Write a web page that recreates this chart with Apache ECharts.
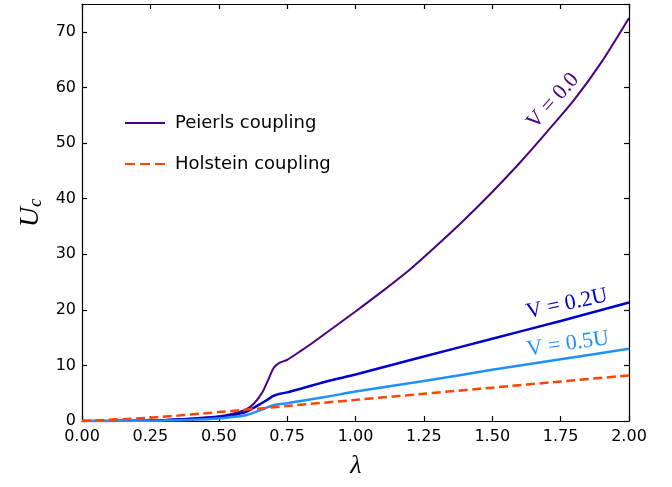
<!DOCTYPE html>
<html>
<head>
<meta charset="utf-8">
<script src="https://cdn.jsdelivr.net/npm/echarts@6/dist/echarts.min.js"></script>
<style>html,body{margin:0;padding:0;background:#fff}#c{width:672px;height:487px}</style>
</head>
<body>
<div id="c"></div>
<script>
// ---- data ----
var xTicks = [0, 0.25, 0.5, 0.75, 1.0, 1.25, 1.5, 1.75, 2.0];
var yTicks = [0, 10, 20, 30, 40, 50, 60, 70];

var lamV00 = [0, 0.1, 0.2, 0.3, 0.4, 0.5, 0.55, 0.6, 0.63, 0.66, 0.68, 0.70, 0.72, 0.75, 0.80, 0.85, 0.90, 1.0, 1.1, 1.2, 1.3, 1.4, 1.5, 1.6, 1.7, 1.8, 1.9, 2.0];
var uV00   = [0, 0.02, 0.08, 0.2, 0.45, 0.85, 1.3, 2.1, 3.2, 5.2, 7.3, 9.5, 10.4, 11.0, 12.6, 14.3, 16.1, 19.7, 23.4, 27.3, 31.7, 36.3, 41.2, 46.4, 52.0, 57.8, 64.6, 72.5];

var lamV02 = [0, 0.1, 0.2, 0.3, 0.4, 0.5, 0.55, 0.6, 0.65, 0.68, 0.70, 0.72, 0.75, 0.8, 0.9, 1.0, 1.25, 1.5, 1.75, 2.0];
var uV02   = [0, 0.01, 0.05, 0.15, 0.35, 0.7, 1.05, 1.65, 3.0, 3.9, 4.5, 4.85, 5.15, 5.8, 7.2, 8.35, 11.6, 14.8, 18.0, 21.3];

var lamV05 = [0, 0.1, 0.2, 0.3, 0.4, 0.5, 0.55, 0.6, 0.65, 0.68, 0.70, 0.75, 0.8, 0.9, 1.0, 1.25, 1.5, 1.75, 2.0];
var uV05   = [0, 0.005, 0.03, 0.1, 0.22, 0.45, 0.7, 1.05, 1.9, 2.5, 2.85, 3.2, 3.6, 4.4, 5.3, 7.2, 9.2, 11.1, 13.0];

var lamHol = [0, 0.25, 0.5, 0.75, 1.0, 1.25, 1.5, 1.75, 2.0];
var uHol   = [0, 0.6, 1.6, 2.7, 3.8, 4.9, 6.0, 7.1, 8.2];

var legendNames = ['Peierls coupling', 'Holstein coupling'];
var curveLabels = ['V = 0.0', 'V = 0.2U', 'V = 0.5U'];

function pairs(xs, ys) { return xs.map(function (x, i) { return [x, ys[i]]; }); }

var serifIt = 'italic 28px "Liberation Serif", "DejaVu Serif", serif';
var chart = echarts.init(document.getElementById('c'), null, {renderer: 'canvas'});

var axisCommon = {
  axisLine: {show: true, onZero: false, lineStyle: {color: '#000', width: 1.2}},
  axisTick: {show: true, inside: true, length: 5, lineStyle: {color: '#000', width: 1.2}},
  splitLine: {show: false}
};

chart.setOption({
  animation: false,
  backgroundColor: '#fff',
  grid: {left: 82, right: 43, top: 4, bottom: 66, containLabel: false},
  xAxis: [
    Object.assign({type: 'value', min: 0, max: 2, interval: 0.25, position: 'bottom',
      axisLabel: {margin: 8, color: '#000', fontSize: 16, fontFamily: 'DejaVu Sans',
        formatter: function (v) { return v.toFixed(2); }}}, axisCommon),
    Object.assign({type: 'value', min: 0, max: 2, interval: 0.25, position: 'top',
      axisLabel: {show: false}}, axisCommon)
  ],
  yAxis: [
    Object.assign({type: 'value', min: 0, max: 75, interval: 10, position: 'left',
      axisLabel: {margin: 6, color: '#000', fontSize: 16, fontFamily: 'DejaVu Sans', showMaxLabel: false}}, axisCommon),
    Object.assign({type: 'value', min: 0, max: 75, interval: 10, position: 'right',
      axisLabel: {show: false}}, axisCommon)
  ],
  legend: {
    data: [
      {name: legendNames[0], icon: 'path://M0,0h40v2h-40z', itemStyle: {color: '#4B0082'}},
      {name: legendNames[1], icon: 'path://M0,0h10v2h-10zM15,0h10v2h-10zM30,0h10v2h-10z', itemStyle: {color: '#FF4500'}}
    ],
    orient: 'vertical', left: 125, top: 114,
    itemWidth: 40, itemHeight: 2, itemGap: 23, padding: 0,
    textStyle: {fontSize: 18, fontFamily: 'DejaVu Sans', color: '#000', padding: [0, 0, 0, 5]}
  },
  series: [
    {name: legendNames[0], type: 'line', data: pairs(lamV00, uV00), showSymbol: false, symbol: 'none',
      smooth: 0.25, lineStyle: {color: '#4B0082', width: 2}, itemStyle: {color: '#4B0082'}, z: 3},
    {name: 'V=0.2U', type: 'line', data: pairs(lamV02, uV02), showSymbol: false, symbol: 'none',
      smooth: 0.25, lineStyle: {color: '#0000CD', width: 2.5}, itemStyle: {color: '#0000CD'}, z: 3},
    {name: 'V=0.5U', type: 'line', data: pairs(lamV05, uV05), showSymbol: false, symbol: 'none',
      smooth: 0.25, lineStyle: {color: '#1E90FF', width: 2.5}, itemStyle: {color: '#1E90FF'}, z: 3},
    {name: legendNames[1], type: 'line', data: pairs(lamHol, uHol), showSymbol: false, symbol: 'none',
      smooth: 0.2, lineStyle: {color: '#FF4500', width: 2.5, type: [9, 4.5]}, itemStyle: {color: '#FF4500'}, z: 4}
  ],
  graphic: [
    {type: 'text', x: 553, y: 101, rotation: 48 * Math.PI / 180,
      style: {text: curveLabels[0], fill: '#4B0082', font: '22px "Liberation Serif", serif', align: 'center', verticalAlign: 'middle'}},
    {type: 'text', x: 567, y: 304, rotation: 12 * Math.PI / 180,
      style: {text: curveLabels[1], fill: '#0000CD', font: '22px "Liberation Serif", serif', align: 'center', verticalAlign: 'middle'}},
    {type: 'text', x: 568, y: 344, rotation: 8 * Math.PI / 180,
      style: {text: curveLabels[2], fill: '#1E90FF', font: '22px "Liberation Serif", serif', align: 'center', verticalAlign: 'middle'}},
    {type: 'text', x: 356, y: 466,
      style: {text: 'λ', fill: '#000', font: 'italic 26px "Liberation Serif", serif', align: 'center', verticalAlign: 'middle'}},
    {type: 'text', x: 31, y: 213, rotation: Math.PI / 2,
      style: {text: '{u|U}{c|c}', fill: '#000', align: 'center', verticalAlign: 'middle',
        rich: {u: {font: serifIt, lineHeight: 28, verticalAlign: 'bottom'},
               c: {font: 'italic 19px "Liberation Serif", serif', lineHeight: 16, verticalAlign: 'bottom'}}}}
  ]
});
</script>
</body>
</html>
